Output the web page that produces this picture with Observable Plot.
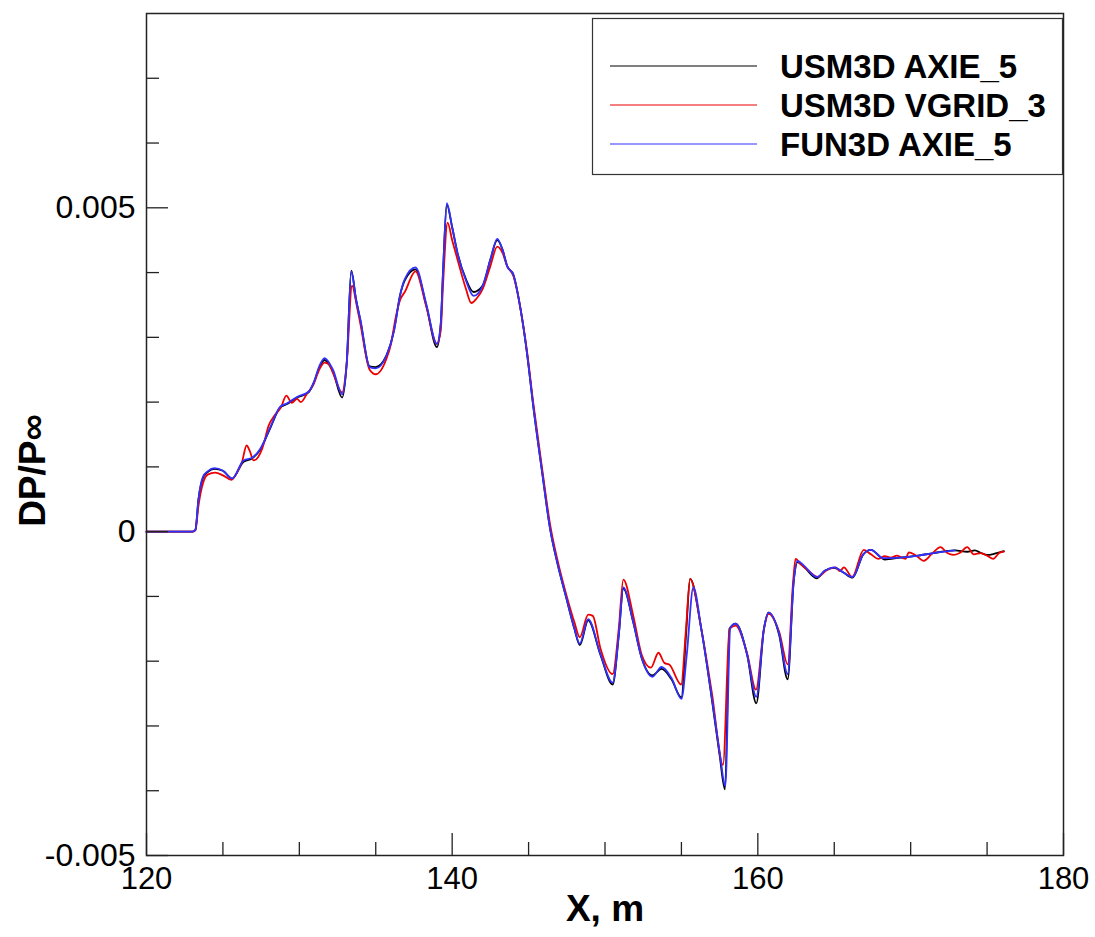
<!DOCTYPE html>
<html>
<head>
<meta charset="utf-8">
<script src="https://cdn.jsdelivr.net/npm/d3@7"></script>
<script src="https://cdn.jsdelivr.net/npm/@observablehq/plot@0.6"></script>
<style>
  html, body { margin: 0; padding: 0; background: #fff; }
  #wrap { position: relative; width: 1095px; height: 937px; }
  #legend { position: absolute; left: 0; top: 0; pointer-events: none; }
</style>
</head>
<body>
<div id="wrap"></div>
<script>
const seriesNames = ["USM3D AXIE_5", "USM3D VGRID_3", "FUN3D AXIE_5"];
const seriesColors = ["#000000", "#ee0000", "#3030ff"];

const xMajorTicks = [120, 140, 160, 180];
const xMinorTicks = [125, 130, 135, 145, 150, 155, 165, 170, 175];
const yMajorTicks = [-0.005, 0, 0.005];
const yMinorTicks = [-0.004, -0.003, -0.002, -0.001, 0.001, 0.002, 0.003, 0.004, 0.006, 0.007];

const usm3dAxie5 = [[120,0],[123.0,0],[123.2,0.00003],[123.4,0.0005],[123.7,0.00083],[124.0,0.00092],[124.45,0.00097],[125.0,0.00094],[125.6,0.00082],[126.35,0.00108],[126.9,0.00113],[127.45,0.00127],[128.1,0.0016],[128.75,0.00192],[129.2,0.00197],[129.85,0.00207],[130.6,0.00215],[130.95,0.0023],[131.3,0.00253],[131.65,0.00265],[132.2,0.00247],[132.8,0.00207],[133.1,0.0026],[133.4,0.00403],[133.7,0.0036],[134.0,0.00325],[134.6,0.00255],[135.0,0.00254],[135.7,0.00272],[136.2,0.00312],[136.6,0.00366],[136.9,0.00388],[137.6,0.00405],[138.3,0.0035],[139.0,0.00285],[139.25,0.0032],[139.4,0.004],[139.65,0.00505],[140.0,0.0047],[140.35,0.0043],[140.9,0.0039],[141.4,0.0037],[142.0,0.0038],[142.5,0.0042],[142.95,0.0045],[143.3,0.00435],[143.6,0.0041],[144.0,0.00397],[144.5,0.0034],[144.9,0.00275],[145.3,0.00195],[145.9,0.0009],[146.4,0.00006],[146.9,-0.0005],[147.5,-0.00105],[148.0,-0.0015],[148.35,-0.00175],[148.9,-0.00137],[149.7,-0.0019],[150.5,-0.00236],[150.9,-0.0016],[151.2,-0.00088],[151.85,-0.0014],[152.4,-0.00195],[153.1,-0.00222],[153.7,-0.00212],[154.35,-0.00228],[155.0,-0.00256],[155.3,-0.0016],[155.57,-0.00073],[156.3,-0.0015],[157.0,-0.0026],[157.5,-0.00345],[157.85,-0.00398],[158.15,-0.0015],[158.55,-0.00142],[159.3,-0.0019],[159.9,-0.00265],[160.4,-0.0015],[160.7,-0.00125],[161.4,-0.0016],[161.95,-0.00228],[162.35,-0.00076],[162.6,-0.00047],[163.0,-0.00054],[163.85,-0.00072],[164.4,-0.0006],[165.0,-0.00056],[165.6,-0.00063],[166.2,-0.00071],[166.9,-0.00035],[167.4,-0.00028],[168.3,-0.00043],[169.3,-0.0004],[170.5,-0.00037],[171.5,-0.00033],[172.9,-0.00029],[173.7,-0.00031],[174.2,-0.00029],[174.6,-0.00033],[175.0,-0.00036],[175.5,-0.00034],[176.1,-0.0003]];

const usm3dVgrid3 = [[120,0],[123.0,0],[123.2,0.00002],[123.4,0.0004],[123.7,0.00075],[124.0,0.00088],[124.5,0.00091],[125.0,0.00087],[125.55,0.0008],[126.0,0.00095],[126.25,0.00108],[126.55,0.00133],[126.75,0.00125],[127.0,0.0011],[127.3,0.00115],[127.57,0.00128],[128.0,0.00164],[128.4,0.0018],[128.8,0.00192],[129.15,0.0021],[129.5,0.00199],[129.85,0.00205],[130.1,0.002],[130.5,0.00213],[130.9,0.00226],[131.3,0.0025],[131.65,0.00261],[131.95,0.00258],[132.2,0.00245],[132.8,0.00215],[133.1,0.0026],[133.45,0.0038],[133.75,0.0035],[134.0,0.0032],[134.6,0.0025],[135.0,0.00243],[135.7,0.00267],[136.0,0.0029],[136.3,0.0033],[136.6,0.00358],[136.9,0.0037],[137.6,0.00402],[138.3,0.00348],[139.0,0.0029],[139.25,0.0031],[139.4,0.0038],[139.7,0.00477],[140.0,0.0045],[140.35,0.0042],[140.9,0.00375],[141.25,0.00353],[141.6,0.0036],[142.0,0.00375],[142.5,0.0041],[142.95,0.0044],[143.3,0.0043],[143.6,0.0041],[144.0,0.00395],[144.5,0.0034],[144.9,0.00278],[145.3,0.002],[145.9,0.00095],[146.4,0.00012],[146.9,-0.00045],[147.5,-0.001],[148.0,-0.0014],[148.35,-0.00163],[148.9,-0.00128],[149.2,-0.0013],[149.7,-0.0018],[150.5,-0.0022],[150.9,-0.0015],[151.2,-0.00074],[151.85,-0.0013],[152.4,-0.0019],[153.0,-0.0021],[153.5,-0.00187],[153.9,-0.00203],[154.2,-0.00205],[154.98,-0.00236],[155.3,-0.0015],[155.57,-0.00073],[156.3,-0.0015],[157.0,-0.0025],[157.72,-0.0036],[158.15,-0.0015],[158.55,-0.00145],[159.3,-0.00188],[159.88,-0.00244],[160.4,-0.0015],[160.7,-0.00127],[161.4,-0.00155],[161.96,-0.00205],[162.3,-0.0008],[162.47,-0.00042],[162.8,-0.0005],[163.45,-0.00063],[163.9,-0.0007],[164.54,-0.00059],[165.08,-0.00055],[165.37,-0.00061],[165.63,-0.00055],[166.17,-0.0007],[166.93,-0.00028],[167.4,-0.00035],[167.9,-0.00042],[168.3,-0.00038],[168.7,-0.0004],[169.1,-0.00037],[169.66,-0.00042],[169.88,-0.00032],[170.3,-0.00036],[170.86,-0.00045],[171.4,-0.00034],[171.95,-0.00024],[172.4,-0.00033],[172.8,-0.00036],[173.2,-0.00033],[173.7,-0.00024],[174.13,-0.00035],[174.6,-0.00033],[175.0,-0.00037],[175.4,-0.00042],[175.8,-0.00033],[176.1,-0.00031]];

const fun3dAxie5 = [[120,0],[123.0,0],[123.2,0.00003],[123.4,0.0005],[123.7,0.00085],[124.0,0.00093],[124.45,0.00098],[125.0,0.00094],[125.6,0.00082],[126.35,0.0011],[126.9,0.00114],[127.45,0.00128],[128.1,0.00161],[128.75,0.00193],[129.2,0.00198],[129.85,0.00208],[130.6,0.00216],[130.95,0.00231],[131.3,0.00255],[131.65,0.00268],[132.2,0.0025],[132.8,0.00212],[133.1,0.0026],[133.4,0.00402],[133.7,0.0036],[134.0,0.00327],[134.6,0.00254],[135.0,0.00252],[135.7,0.00272],[136.2,0.0031],[136.6,0.00366],[136.9,0.0039],[137.6,0.00408],[138.3,0.00352],[139.0,0.0029],[139.25,0.0032],[139.4,0.004],[139.65,0.00507],[140.0,0.0047],[140.35,0.0043],[140.9,0.00388],[141.4,0.00364],[142.0,0.0038],[142.5,0.0042],[142.95,0.00452],[143.3,0.00435],[143.6,0.0041],[144.0,0.00397],[144.5,0.0034],[144.9,0.00275],[145.3,0.00195],[145.9,0.00089],[146.4,0.00005],[146.9,-0.0005],[147.5,-0.00105],[148.0,-0.0015],[148.35,-0.00173],[148.9,-0.00135],[149.7,-0.00189],[150.5,-0.00233],[150.9,-0.0016],[151.2,-0.00086],[151.85,-0.0014],[152.4,-0.00195],[153.1,-0.00224],[153.7,-0.00209],[154.35,-0.00226],[155.0,-0.00258],[155.35,-0.0019],[155.78,-0.00086],[156.3,-0.0015],[157.0,-0.00258],[157.5,-0.0034],[157.87,-0.00393],[158.2,-0.00148],[158.55,-0.00142],[159.3,-0.0019],[159.9,-0.00255],[160.4,-0.0015],[160.7,-0.00125],[161.4,-0.00158],[161.95,-0.0022],[162.35,-0.00076],[162.6,-0.00045],[163.0,-0.00052],[163.85,-0.0007],[164.4,-0.0006],[165.0,-0.00055],[165.6,-0.00063],[166.2,-0.0007],[166.9,-0.00035],[167.4,-0.00028],[168.2,-0.00041],[169.3,-0.0004],[170.5,-0.00037],[171.5,-0.00033],[172.9,-0.00029]];

const xLabel = "X, m";
const yLabel = "DP/P∞";

const seriesData = [usm3dAxie5, usm3dVgrid3, fun3dAxie5];
const FONT = "'Liberation Sans', Arial, Helvetica, sans-serif";

const W = 1095, H = 937, ML = 146, MR = 32, MT = 13, MB = 82;
const PW = W - ML - MR, PH = H - MT - MB;

const lineMarks = seriesData.map((pts, i) =>
  Plot.line(pts.map(([x, y]) => ({x, y})), {
    x: "x", y: "y", stroke: seriesColors[i], strokeWidth: 1.8, curve: "monotone-x"
  })
);

const chart = Plot.plot({
  width: W, height: H,
  marginLeft: ML, marginRight: MR, marginTop: MT, marginBottom: MB,
  x: {domain: [120, 180]},
  y: {domain: [-0.005, 0.008]},
  style: {fontFamily: FONT, background: "#fff", color: "#000"},
  marks: [
    ...lineMarks,
    Plot.tickX(xMinorTicks, {x: d => d, insetTop: PH - 13, stroke: "#222", strokeWidth: 1.3}),
    Plot.tickX(xMajorTicks, {x: d => d, insetTop: PH - 22, stroke: "#222", strokeWidth: 1.3}),
    Plot.tickY(yMinorTicks, {y: d => d, insetRight: PW - 13, stroke: "#222", strokeWidth: 1.3}),
    Plot.tickY(yMajorTicks, {y: d => d, insetRight: PW - 22, stroke: "#222", strokeWidth: 1.3}),
    Plot.axisX(xMajorTicks, {tickSize: 0, tickPadding: 11, fontSize: 31, label: null, tickFormat: d => String(d)}),
    Plot.axisY(yMajorTicks, {tickSize: 0, tickPadding: 11, fontSize: 32, label: null, tickFormat: d => String(d)}),
    Plot.frame({stroke: "#222", strokeWidth: 1.5}),
    Plot.text([xLabel], {text: d => d, frameAnchor: "bottom", textAnchor: "middle", lineAnchor: "middle", dy: 54, fontSize: 37, fontWeight: "bold"}),
    Plot.text([yLabel], {text: d => d, frameAnchor: "left", textAnchor: "middle", lineAnchor: "middle", dx: -113, dy: 36, rotate: -90, fontSize: 37, fontWeight: "bold"})
  ]
});

const wrap = document.getElementById("wrap");
wrap.appendChild(chart);

// Legend box (inside the plot area, top right)
const lg = d3.select(wrap).append("svg")
  .attr("id", "legend").attr("width", W).attr("height", 200);
const box = {x: 592.5, y: 18.5, w: 470, h: 156};
lg.append("rect").attr("x", box.x).attr("y", box.y).attr("width", box.w).attr("height", box.h)
  .attr("fill", "#fff").attr("stroke", "#333").attr("stroke-width", 1.2);
seriesNames.forEach((name, i) => {
  const cy = 66 + i * 39;
  lg.append("line").attr("x1", 610).attr("x2", 757).attr("y1", cy).attr("y2", cy)
    .attr("stroke", seriesColors[i]).attr("stroke-width", 1.2);
  lg.append("text").attr("x", 780).attr("y", cy + 11.5)
    .attr("font-family", FONT).attr("font-size", 33).attr("font-weight", "bold")
    .attr("fill", "#000").text(name);
});
</script>
</body>
</html>
